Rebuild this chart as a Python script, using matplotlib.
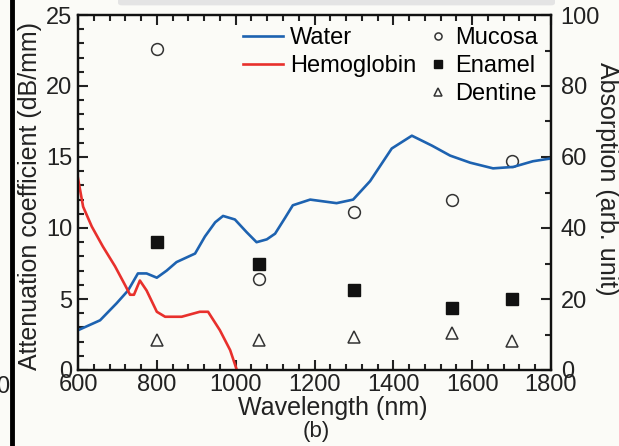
# attenuation / absorption spectra, panel (b)

import numpy as np
import matplotlib.pyplot as plt
from matplotlib.lines import Line2D
from matplotlib.patches import FancyBboxPatch
from matplotlib.ticker import MultipleLocator

plt.rcParams['font.family'] = ['Liberation Sans', 'DejaVu Sans']

# water absorption spectrum (right axis, arb. unit)
water_wl = [600, 656, 698, 727, 752, 774, 800, 825, 850, 897, 922, 948, 968,
            998, 1028, 1053, 1079, 1100, 1125, 1145, 1189, 1256, 1298, 1341,
            1396, 1447, 1498, 1544, 1595, 1653, 1704, 1754, 1800]
water_abs = [11.2, 14.0, 18.8, 22.4, 27.2, 27.2, 26.0, 28.0, 30.4, 32.8, 37.6,
             41.6, 43.4, 42.4, 38.8, 36.0, 36.8, 38.4, 42.8, 46.4, 48.0, 47.0,
             48.0, 53.2, 62.4, 66.0, 63.2, 60.4, 58.4, 56.8, 57.2, 58.8, 59.6]

# hemoglobin absorption spectrum (right axis, arb. unit)
hb_wl = [600, 613, 635, 663, 694, 719, 732, 742, 757, 774, 800, 821, 863,
         909, 930, 960, 986, 1003]
hb_abs = [54.0, 46.0, 40.4, 34.8, 29.2, 24.0, 21.2, 21.2, 25.2, 22.4, 16.4,
          15.0, 15.0, 16.4, 16.4, 11.2, 5.6, 0.0]

# measured attenuation coefficients (left axis, dB/mm)
tissue_wl = [800, 1060, 1300, 1550, 1700]
mucosa = [22.6, 6.4, 11.1, 12.0, 14.7]
enamel = [9.0, 7.5, 5.6, 4.4, 5.0]
dentine = [2.1, 2.1, 2.3, 2.6, 2.05]

bg = '#fbfbf7'
ink = '#222222'
fs = 17

fig = plt.figure(figsize=(6.19, 4.46), dpi=100, facecolor=bg)
ax = fig.add_axes([78/619, 1-370/446, 473/619, 355/446])
ax.set_facecolor(bg)
ax2 = ax.twinx()

ax2.plot(water_wl, water_abs, color='#1d62b0', lw=1.9, label='Water')
ax2.plot(hb_wl, hb_abs, color='#e8302c', lw=1.9, label='Hemoglobin')

ax.plot(tissue_wl, mucosa, 'o', ms=8.5, mfc='none', mec='#333333', mew=1.1,
        label='Mucosa')
ax.plot(tissue_wl, enamel, 's', ms=8.5, mfc='#111111', mec='#111111',
        label='Enamel')
ax.plot(tissue_wl, dentine, '^', ms=9, mfc='none', mec='#333333', mew=1.1,
        label='Dentine')

ax.set_xlim(600, 1800)
ax.set_ylim(0, 25)
ax2.set_ylim(0, 100)

ax.xaxis.set_major_locator(MultipleLocator(200))
ax.xaxis.set_minor_locator(MultipleLocator(40))
ax.yaxis.set_major_locator(MultipleLocator(5))
ax.yaxis.set_minor_locator(MultipleLocator(1))
ax2.yaxis.set_major_locator(MultipleLocator(20))
ax2.yaxis.set_minor_locator(MultipleLocator(10))

ax.tick_params(axis='x', which='both', direction='in', top=True, labelsize=fs,
               pad=3, colors=ink)
ax.tick_params(axis='y', which='both', direction='in', right=False,
               labelsize=fs, pad=4, colors=ink)
ax2.tick_params(axis='y', which='both', direction='in', labelsize=fs, pad=7,
                colors=ink)
for a in (ax, ax2):
    a.tick_params(which='major', length=7, width=1.5)
    a.tick_params(which='minor', length=4, width=1.5)
    for s in a.spines.values():
        s.set_linewidth(1.6)
        s.set_color('#111111')

ax.set_xlabel('Wavelength (nm)', fontsize=18, color=ink)
ax.xaxis.set_label_coords((333-78)/473, -(408-370)/355)
ax.xaxis.label.set_va('center')
ax.set_ylabel('Attenuation coefficient (dB/mm)', fontsize=18, color=ink)
ax.yaxis.set_label_coords(-(78-30)/473, 0.49)
ax.yaxis.label.set_va('center')
ax2.set_ylabel('Absorption (arb. unit)', fontsize=18, rotation=270,
               color=ink)
ax2.yaxis.set_label_coords(1+(607-551)/473, 0.54)
ax2.yaxis.label.set_va('center')
fig.text(316/619, 1-431/446, '(b)', fontsize=16, ha='center', va='center',
         color=ink)

h1, l1 = ax2.get_legend_handles_labels()
leg1 = ax2.legend(h1, l1, loc='upper left', bbox_to_anchor=(0.349, 0.966),
                  frameon=False, fontsize=fs, handlelength=1.7,
                  handletextpad=0.3, labelspacing=0.25, borderpad=0,
                  borderaxespad=0)
ax2.add_artist(leg1)
h2, l2 = ax.get_legend_handles_labels()
ax2.legend(h2, l2, loc='upper left', bbox_to_anchor=(0.744, 0.966),
           frameon=False, fontsize=fs, handlelength=0.7, handletextpad=0.35,
           labelspacing=0.25, borderpad=0, borderaxespad=0, markerscale=0.6)

# bits of the surrounding page visible in the crop
fig.add_artist(Line2D([11.5/619, 11.5/619], [0, 1], color='black', lw=3.5))
fig.add_artist(FancyBboxPatch((118/619, 0.988), 437/619, 0.03,
                              boxstyle='round,pad=0,rounding_size=0.006',
                              fc='#e4e4e4', ec='none'))
fig.text(-0.007, 1-387/446, '0', fontsize=fs, ha='left', va='center',
         color=ink)

fig.savefig('out.png', dpi=100, facecolor=bg)
